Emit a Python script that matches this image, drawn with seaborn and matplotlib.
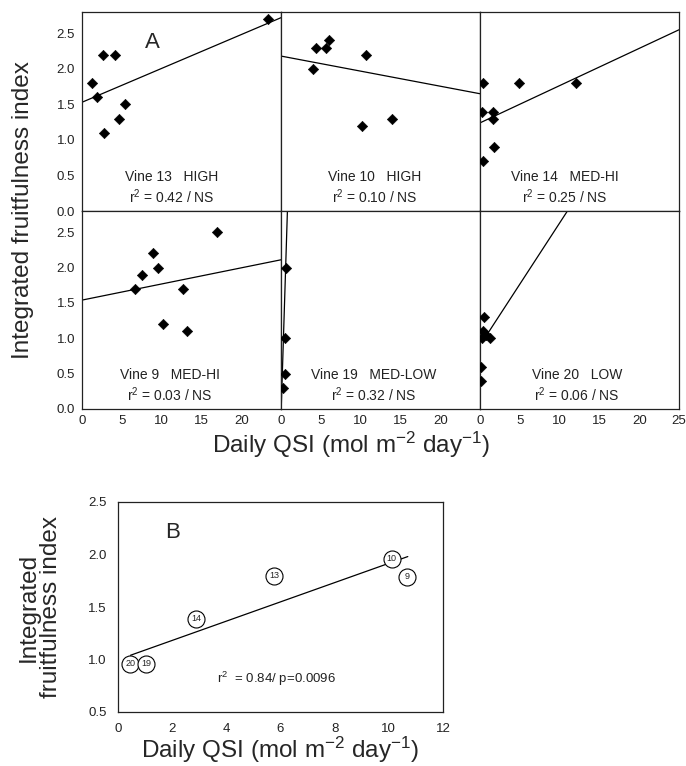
import matplotlib
matplotlib.use("Agg")
import numpy as np
import pandas as pd
import seaborn as sns
import matplotlib.pyplot as plt

# ---------------- data ----------------
vine_ids = ["13", "10", "14", "9", "19", "20"]
vine_class = ["HIGH", "HIGH", "MED-HI", "MED-HI", "MED-LOW", "LOW"]
vine_r2 = ["0.42 / NS", "0.10 / NS", "0.25 / NS", "0.03 / NS", "0.32 / NS", "0.06 / NS"]

qsi_13 = [1.3, 1.9, 2.7, 4.2, 2.8, 4.6, 5.4, 23.4]
fi_13 = [1.8, 1.6, 2.2, 2.2, 1.1, 1.3, 1.5, 2.7]
qsi_10 = [4.4, 5.7, 6.0, 4.0, 10.7, 10.2, 14.0]
fi_10 = [2.3, 2.3, 2.4, 2.0, 2.2, 1.2, 1.3]
qsi_14 = [0.4, 4.9, 12.0, 0.3, 1.6, 1.6, 1.8, 0.4]
fi_14 = [1.8, 1.8, 1.8, 1.4, 1.4, 1.3, 0.9, 0.7]
qsi_9 = [6.6, 7.6, 8.9, 9.5, 10.2, 12.7, 13.2, 17.0]
fi_9 = [1.7, 1.9, 2.2, 2.0, 1.2, 1.7, 1.1, 2.5]
qsi_19 = [0.6, 0.55, 0.5, 0.3]
fi_19 = [2.0, 1.0, 0.5, 0.3]
qsi_20 = [0.5, 0.4, 0.2, 1.2, 0.7, 0.1, 0.1]
fi_20 = [1.3, 1.1, 1.0, 1.0, 1.05, 0.6, 0.4]

# fitted regression lines (intercept, slope, x-start, x-end)
fit_intercept = [1.53, 2.18, 1.24, 1.54, -0.10, 0.90]
fit_slope = [0.0476, -0.0212, 0.0524, 0.0228, 3.6, 0.173]
fit_x0 = [0.0, 0.0, 0.0, 0.0, 0.0, 1.0]
fit_x1 = [25.0, 25.0, 25.0, 25.0, 1.0, 25.0]

# panel B
b_vine = ["20", "19", "14", "13", "10", "9"]
b_qsi = [0.46, 1.05, 2.89, 5.77, 10.11, 10.66]
b_fi = [0.96, 0.96, 1.39, 1.80, 1.96, 1.79]
b_intercept, b_slope, b_x0, b_x1 = 0.998, 0.0918, 0.46, 10.7

xs_all = [qsi_13, qsi_10, qsi_14, qsi_9, qsi_19, qsi_20]
ys_all = [fi_13, fi_10, fi_14, fi_9, fi_19, fi_20]

# ---------------- style ----------------
sns.set_style("white")
plt.rcParams["font.family"] = ["Liberation Sans", "DejaVu Sans"]
plt.rcParams["mathtext.fontset"] = "custom"
plt.rcParams["mathtext.rm"] = "Liberation Sans"
plt.rcParams["mathtext.it"] = "Liberation Sans:italic"
plt.rcParams["mathtext.bf"] = "Liberation Sans:bold"
plt.rcParams["axes.edgecolor"] = "#222222"
plt.rcParams["axes.linewidth"] = 0.9

W, H = 686, 766
fig = plt.figure(figsize=(W / 100, H / 100), dpi=100)

def px_axes(left, top, right, bottom):
    return fig.add_axes([left / W, 1 - bottom / H, (right - left) / W, (bottom - top) / H])

col_edges = [82, 281, 480, 679]
row_edges = [12, 211, 409]
text_x = [11.3, 11.8, 10.6, 11.0, 11.6, 12.2]
TICK_FS = 9.5

for k in range(6):
    r, c = divmod(k, 3)
    ax = px_axes(col_edges[c], row_edges[r], col_edges[c + 1], row_edges[r + 1])
    ax.set_facecolor("white")
    df = pd.DataFrame({"qsi": xs_all[k], "fi": ys_all[k]})
    sns.scatterplot(data=df, x="qsi", y="fi", marker="D", s=28, color="black",
                    edgecolor="black", linewidth=0.4, ax=ax, zorder=3)
    lx = np.array([fit_x0[k], fit_x1[k]])
    ly = fit_intercept[k] + fit_slope[k] * lx
    sns.lineplot(x=lx, y=ly, color="black", linewidth=0.9, ax=ax, sort=False)
    ax.set_xlim(0, 25)
    ax.set_ylim(0, 2.8)
    ax.set_xlabel("")
    ax.set_ylabel("")
    for sp in ax.spines.values():
        sp.set_visible(True)
    ax.text(text_x[k], 0.48, f"Vine {vine_ids[k]}   {vine_class[k]}", ha="center",
            va="center", fontsize=10, color="#222222")
    ax.text(text_x[k], 0.20, f"r$^2$ = {vine_r2[k]}", ha="center", va="center",
            fontsize=10, color="#222222")
    # ticks
    ax.set_yticks([0, 0.5, 1.0, 1.5, 2.0, 2.5])
    if c == 0:
        ax.set_yticklabels(["0.0", "0.5", "1.0", "1.5", "2.0", "2.5"])
        ax.tick_params(axis="y", direction="in", length=4, width=1, labelsize=TICK_FS,
                       pad=5, colors="#222222")
    else:
        ax.set_yticklabels([])
        ax.tick_params(axis="y", direction="in", length=2, width=0.8)
    if r == 1:
        ticks = [0, 5, 10, 15, 20, 25] if c == 2 else [0, 5, 10, 15, 20]
        ax.set_xticks(ticks)
        ax.set_xticklabels([str(t) for t in ticks])
        ax.tick_params(axis="x", direction="in", length=4, width=1.2, labelsize=TICK_FS,
                       pad=4, colors="#222222")
    else:
        ax.set_xticks([])
    if k == 0:
        ax.text(8.8, 2.37, "A", fontsize=16, ha="center", va="center")

fig.text(23 / W, 1 - 210 / H, "Integrated fruitfulness index", rotation=90,
         ha="center", va="center", fontsize=17.5)
fig.text(351 / W, 1 - 445 / H, "Daily QSI (mol m$^{-2}$ day$^{-1}$)",
         ha="center", va="center", fontsize=17.5)

# ---------------- panel B ----------------
axb = px_axes(118, 502, 443, 712)
dfb = pd.DataFrame({"qsi": b_qsi, "fi": b_fi, "vine": b_vine})
lx = np.array([b_x0, b_x1])
sns.lineplot(x=lx, y=b_intercept + b_slope * lx, color="black", linewidth=0.9,
             ax=axb, sort=False)
sns.scatterplot(data=dfb, x="qsi", y="fi", marker="o", s=150, color="white",
                edgecolor="black", linewidth=0.8, ax=axb, zorder=3)
for _, row in dfb.iterrows():
    axb.text(row["qsi"], row["fi"], row["vine"], ha="center", va="center",
             fontsize=6.5, zorder=4)
axb.set_xlim(0, 12)
axb.set_ylim(0.5, 2.5)
axb.set_xticks([0, 2, 4, 6, 8, 10, 12])
axb.set_yticks([0.5, 1.0, 1.5, 2.0, 2.5])
axb.set_yticklabels(["0.5", "1.0", "1.5", "2.0", "2.5"])
axb.tick_params(direction="out", length=4, width=1, labelsize=TICK_FS, pad=4,
                colors="#222222")
for sp in axb.spines.values():
    sp.set_visible(True)
axb.set_xlabel("")
axb.set_ylabel("")
fig.text(280 / W, 1 - 750 / H, "Daily QSI (mol m$^{-2}$ day$^{-1}$)",
         ha="center", va="center", fontsize=17.5)
axb.text(2.0, 2.21, "B", fontsize=16, ha="center", va="center")
axb.text(5.85, 0.82, "r$^2$  = 0.84/ p=0.0096", ha="center", va="center",
         fontsize=9.5, color="#222222")
fig.text(40 / W, 1 - 607 / H, "Integrated\nfruitfulness index", rotation=90,
         ha="center", va="center", fontsize=17.5, linespacing=1.05,
         multialignment="center")

fig.savefig("out.png", dpi=100)
